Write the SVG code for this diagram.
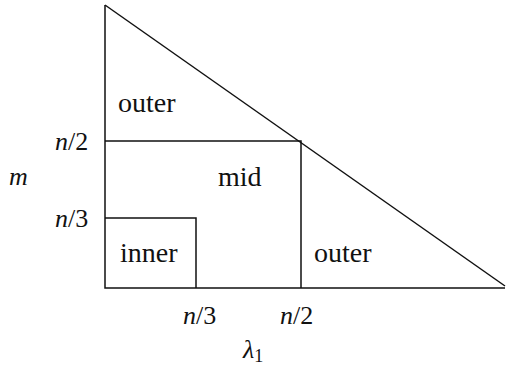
<svg xmlns="http://www.w3.org/2000/svg" width="507" height="368" viewBox="0 0 507 368">
<style>
.ln{stroke:#111;stroke-width:1.5;fill:none}
.t{font-family:"Liberation Serif","Times New Roman",serif;font-size:28px;fill:#111}
.l{font-family:"Liberation Serif","Times New Roman",serif;font-size:26px;fill:#111}
.i{font-style:italic}
</style>
<rect width="507" height="368" fill="#fff"/>
<g id="connectors">
<path class="ln" d="M105,5 L105,288 L505,288"/>
<path class="ln" d="M105,5 L505,286"/>
<path class="ln" d="M105,141 L301,141 L301,288"/>
<path class="ln" d="M105,218 L196,218 L196,288"/>
</g>
<g id="outer-top"><text class="t" x="118" y="112">outer</text></g>
<g id="mid"><text class="t" x="218" y="186">mid</text></g>
<g id="inner"><text class="t" x="120" y="262">inner</text></g>
<g id="outer-right"><text class="t" x="314" y="262">outer</text></g>
<g id="axis-labels">
<text class="l i" x="55" y="150">n<tspan font-style="normal">/2</tspan></text>
<text class="l i" x="55" y="227">n<tspan font-style="normal">/3</tspan></text>
<text class="l i" x="9" y="185">m</text>
<text class="l i" x="183" y="324">n<tspan font-style="normal">/3</tspan></text>
<text class="l i" x="280" y="324">n<tspan font-style="normal">/2</tspan></text>
<text class="l i" x="243" y="358">λ<tspan font-style="normal" font-size="18" dy="4">1</tspan></text>
</g>
</svg>
